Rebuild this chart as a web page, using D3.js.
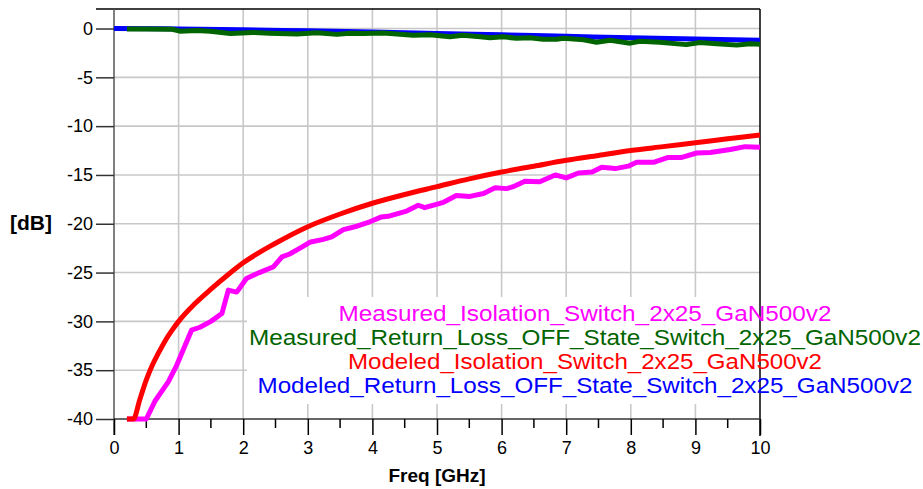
<!DOCTYPE html>
<html><head><meta charset="utf-8">
<script src="https://cdn.jsdelivr.net/npm/d3@7"></script>
<style>body{margin:0;background:#fff}svg{display:block}text{font-family:"Liberation Sans",Arial,sans-serif}</style>
</head><body>
<svg id="c" width="923" height="489"></svg>
<script>
const xTicks = [0,1,2,3,4,5,6,7,8,9,10];
const yTicks = [0,-5,-10,-15,-20,-25,-30,-35,-40];
const seriesNames = [
  "Measured_Isolation_Switch_2x25_GaN500v2",
  "Measured_Return_Loss_OFF_State_Switch_2x25_GaN500v2",
  "Modeled_Isolation_Switch_2x25_GaN500v2",
  "Modeled_Return_Loss_OFF_State_Switch_2x25_GaN500v2"
];
const seriesColors = ["#ff00ff","#006400","#ff0000","#0000ff"];

const measIsoF = [0.2,0.3,0.4,0.5,0.64,0.84,0.97,1.2,1.33,1.5,1.67,1.77,1.9,2.05,2.25,2.47,2.6,2.72,2.88,3.03,3.24,3.37,3.55,3.76,3.96,4.14,4.27,4.53,4.71,4.81,5.1,5.3,5.51,5.72,5.9,6.08,6.18,6.36,6.59,6.83,7.0,7.19,7.4,7.55,7.76,7.96,8.09,8.35,8.58,8.79,9.02,9.23,9.54,9.77,10];
const measIso = [-41,-41,-41,-40,-38.1,-36.2,-34.5,-30.9,-30.6,-30.0,-29.2,-26.8,-27.0,-25.6,-25.0,-24.4,-23.4,-23.1,-22.5,-21.9,-21.6,-21.35,-20.6,-20.25,-19.8,-19.3,-19.2,-18.7,-18.1,-18.35,-17.8,-17.1,-17.2,-16.9,-16.3,-16.4,-16.2,-15.65,-15.7,-15.0,-15.3,-14.8,-14.7,-14.2,-14.35,-14.1,-13.7,-13.7,-13.2,-13.2,-12.75,-12.7,-12.4,-12.1,-12.15];

const measRLF = [0.2,0.5,0.9,1.02,1.28,1.49,1.8,2.15,2.41,2.83,3.14,3.45,3.65,3.86,4.17,4.38,4.63,4.89,5.2,5.4,5.67,5.82,6.02,6.23,6.44,6.64,6.85,6.96,7.27,7.47,7.68,7.99,8.14,8.45,8.86,9.07,9.33,9.64,9.85,10];
const measRL = [-0.05,-0.05,-0.08,-0.27,-0.2,-0.27,-0.5,-0.4,-0.48,-0.55,-0.44,-0.6,-0.48,-0.5,-0.47,-0.57,-0.68,-0.63,-0.85,-0.68,-0.85,-0.95,-0.85,-1.0,-0.95,-1.1,-1.1,-0.99,-1.15,-1.4,-1.2,-1.5,-1.3,-1.4,-1.65,-1.43,-1.55,-1.7,-1.55,-1.6];

const modIsoF = [0.2,0.3,0.4,0.5,0.6,0.7,0.8,0.9,1.0,1.25,1.5,1.75,2,2.5,3,3.5,4,4.5,5,5.5,6,6.5,7,7.5,8,8.5,9,9.5,10];
const modIso = [-44,-40.5,-38,-36,-34.4,-33.1,-31.9,-30.9,-30,-28.2,-26.7,-25.3,-24,-22,-20.3,-19,-17.9,-17,-16.2,-15.4,-14.7,-14.1,-13.5,-13,-12.5,-12.1,-11.7,-11.3,-10.9];

const modRLF = [0,1,2,3,4,5,6,7,8,9,10];
const modRL = [0,-0.04,-0.12,-0.24,-0.36,-0.5,-0.65,-0.8,-0.95,-1.08,-1.2];

const svg = d3.select("#c");
const L=114, R=760, T=9, B=419;
const x = d3.scaleLinear().domain([0,10]).range([L,R]);
const y = d3.scaleLinear().domain([-40,2]).range([B,T]).clamp(true);
const fmt = d => String(d);

// grid
const g = svg.append("g");
g.selectAll(".vg").data(d3.range(1,10)).join("line")
  .attr("x1",d=>x(d)).attr("x2",d=>x(d)).attr("y1",T).attr("y2",B)
  .attr("stroke","#c8c8c8").attr("stroke-width",1.6);
g.selectAll(".hg").data(yTicks.filter(d=>d>-40)).join("line")
  .attr("x1",L).attr("x2",R).attr("y1",d=>y(d)).attr("y2",d=>y(d))
  .attr("stroke","#c8c8c8").attr("stroke-width",1.6);

// legend background
svg.append("rect").attr("x",247).attr("y",297).attr("width",R-247).attr("height",107).attr("fill","#fff");

// frame
svg.append("line").attr("x1",96).attr("x2",R).attr("y1",T).attr("y2",T).attr("stroke","#000").attr("stroke-width",1.5);
svg.append("line").attr("x1",R).attr("x2",R).attr("y1",T).attr("y2",436).attr("stroke","#000").attr("stroke-width",1.5);
svg.append("line").attr("x1",L).attr("x2",L).attr("y1",T).attr("y2",435).attr("stroke","#555").attr("stroke-width",1.5);
svg.append("line").attr("x1",L).attr("x2",R).attr("y1",B).attr("y2",B).attr("stroke","#333").attr("stroke-width",1.5);

// x axis
const xAxis = d3.axisBottom(x).tickValues(xTicks).tickSize(16).tickPadding(6).tickFormat(fmt);
const xa = svg.append("g").attr("transform",`translate(0,${B})`).call(xAxis);
xa.select(".domain").remove();
xa.selectAll("line").attr("stroke","#000").attr("stroke-width",1.5);
xa.selectAll("text").attr("font-size",18).attr("fill","#000").attr("font-family","Liberation Sans, Arial, sans-serif");
svg.append("g").selectAll("line").data(d3.range(0.5,10,1)).join("line")
  .attr("x1",d=>x(d)).attr("x2",d=>x(d)).attr("y1",B).attr("y2",B+9).attr("stroke","#000").attr("stroke-width",1.5);

// y axis
const yAxis = d3.axisLeft(y).tickValues(yTicks).tickSize(18).tickPadding(3).tickFormat(fmt);
const ya = svg.append("g").attr("transform",`translate(${L},0)`).call(yAxis);
ya.select(".domain").remove();
ya.selectAll("line").attr("stroke","#333").attr("stroke-width",1.5);
ya.selectAll("text").attr("font-size",18).attr("fill","#000").attr("font-family","Liberation Sans, Arial, sans-serif");

// series
const line = d3.line().x(d=>x(d[0])).y(d=>y(d[1]));
const smooth = d3.line().x(d=>x(d[0])).y(d=>y(d[1])).curve(d3.curveMonotoneX);
const draw = (fs, vs, col, gen) => svg.append("path").datum(fs.map((f,i)=>[f,vs[i]]))
  .attr("d",gen).attr("fill","none").attr("stroke",col).attr("stroke-width",5).attr("stroke-linejoin","round");
draw(modRLF, modRL, seriesColors[3], smooth);
draw(measRLF, measRL, seriesColors[1], line);
draw(measIsoF, measIso, seriesColors[0], line);
draw(modIsoF, modIso, seriesColors[2], smooth);

// legend
const widths = [493,672,474,655];
const lg = svg.append("g");
seriesNames.forEach((n,i)=>{
  lg.append("text").attr("x",585).attr("y",321+i*24).attr("text-anchor","middle")
    .attr("font-size",22).attr("fill",seriesColors[i])
    .attr("textLength",widths[i]).attr("lengthAdjust","spacingAndGlyphs").text(n);
});

// titles
svg.append("text").attr("x",31).attr("y",230).attr("text-anchor","middle").attr("font-size",21).attr("font-weight","bold").text("[dB]");
svg.append("text").attr("x",437).attr("y",482).attr("text-anchor","middle").attr("font-size",19).attr("font-weight","bold").text("Freq [GHz]");
</script>
</body></html>
